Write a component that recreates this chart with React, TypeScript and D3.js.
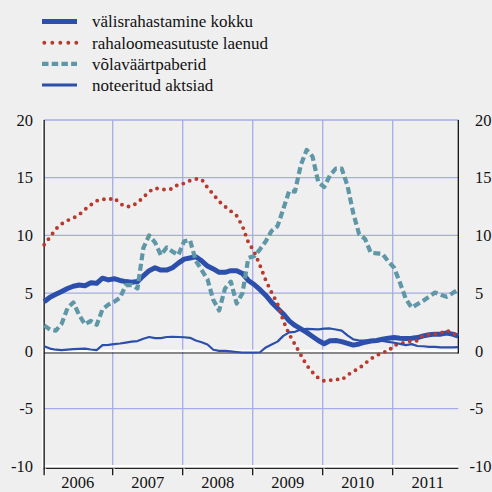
import React from 'react';
import * as d3 from 'd3';

const years = ['2006', '2007', '2008', '2009', '2010', '2011'];
const yTicks = [-10, -5, 0, 5, 10, 15, 20];
const seriesNames = ['välisrahastamine kokku', 'rahaloomeasutuste laenud', 'võlaväärtpaberid', 'noteeritud aktsiad'];

// monthly values, Jan 2006 – Dec 2011
const total = [
  4.25, 4.65, 4.9, 5.15, 5.4, 5.6, 5.7, 5.65, 5.9, 5.85, 6.3, 6.15,
  6.25, 6.1, 6.0, 5.95, 6.0, 6.5, 6.95, 7.2, 7.0, 7.0, 7.2, 7.6,
  7.95, 8.05, 8.15, 7.8, 7.35, 7.1, 6.8, 6.8, 6.95, 6.95, 6.7, 6.1,
  5.75, 5.3, 4.8, 4.2, 3.7, 3.2, 2.6, 2.2, 1.9, 1.6, 1.25, 0.9,
  0.62, 0.88, 0.9, 0.8, 0.65, 0.5, 0.6, 0.75, 0.85, 0.9, 1.0, 1.1,
  1.15, 1.1, 1.07, 1.1, 1.15, 1.3, 1.4, 1.45, 1.45, 1.55, 1.45, 1.27,
];
const loans = [
  9.2, 9.85, 10.55, 11.0, 11.3, 11.5, 11.8, 12.25, 12.65, 13.0, 13.15, 13.08,
  13.25, 12.75, 12.5, 12.52, 12.85, 13.3, 13.8, 14.1, 14.0, 13.95, 14.05, 14.43,
  14.5, 14.75, 14.9, 14.85, 14.15, 13.55, 12.95, 12.5, 12.1, 11.7, 10.8, 9.4,
  8.6, 7.4, 6.1, 5.05, 4.1, 2.6, 1.45, 0.55, -0.35, -1.25, -1.85, -2.35,
  -2.6, -2.55, -2.45, -2.52, -2.1, -1.78, -1.5, -1.1, -0.68, -0.4, -0.12, -0.03,
  0.5, 0.6, 0.75, 0.87, 0.88, 1.36, 1.4, 1.45, 1.55, 1.8, 1.5, 1.35,
];
const debt = [
  2.2, 1.85, 1.75, 2.35, 3.7, 4.2, 3.1, 2.3, 2.6, 2.25, 3.6, 4.0,
  4.25, 4.6, 5.7, 5.7, 5.4, 8.9, 10.0, 9.4, 8.3, 8.95, 8.6, 8.3,
  9.5, 9.6, 7.8, 7.0, 6.2, 4.4, 3.5, 5.4, 6.0, 4.1, 5.0, 8.05,
  8.2, 8.8, 9.5, 10.4, 10.8, 12.3, 13.85, 13.8, 16.1, 17.4, 16.85, 14.6,
  14.2, 15.2, 15.8, 15.8, 14.3, 11.9, 10.1, 9.7, 8.5, 8.45, 8.4, 7.75,
  7.2, 5.9, 4.5, 3.75, 4.05, 4.35, 4.7, 5.05, 4.85, 4.68, 5.0, 5.3,
];
const equity = [
  0.4, 0.2, 0.1, 0.06, 0.1, 0.15, 0.18, 0.2, 0.12, 0.06, 0.5, 0.52,
  0.58, 0.64, 0.72, 0.8, 0.85, 1.05, 1.2, 1.1, 1.1, 1.2, 1.22, 1.2,
  1.18, 1.13, 0.9, 0.75, 0.55, 0.1, 0.0, 0.0, -0.05, -0.1, -0.14, -0.14,
  -0.14, -0.12, 0.3, 0.55, 0.8, 1.3, 1.6, 1.65, 1.85, 1.9, 1.88, 1.86,
  1.92, 1.94, 1.85, 1.75, 1.35, 1.0, 0.9, 0.88, 0.87, 0.87, 0.87, 0.78,
  0.7, 0.6, 0.5, 0.58, 0.42, 0.4, 0.35, 0.35, 0.3, 0.3, 0.3, 0.32,
];

const BLUE = '#2c4fab';
const RED = '#b8392d';
const TEAL = '#5f97a7';
const GRID = '#a6abea';
const BG = '#efefef';
const FONT = "'Liberation Serif', 'Times New Roman', 'DejaVu Serif', serif";

const styles = [
  { color: BLUE, width: 5, dash: undefined as string | undefined, cap: 'butt' },
  { color: RED, width: 3.9, dash: '0 7', cap: 'round' },
  { color: TEAL, width: 4.2, dash: '7 3.5', cap: 'butt' },
  { color: BLUE, width: 2.2, dash: undefined as string | undefined, cap: 'butt' },
];

export default function App() {
  const W = 492, H = 492;
  const x = d3.scaleLinear().domain([0, 72]).range([42.7, 462.7]);
  const y = d3.scaleLinear().domain([-10, 20]).range([466.3, 120]);
  const n = total.length;
  const xl = x(0.25);
  const xr = x(n - 1 + 0.25);
  const line = d3.line<number>().x((_, i) => x(i + 0.25)).y((d) => y(d));
  const series = [total, loans, debt, equity];
  const bounds = d3.range(1, years.length).map((k) => x(12 * k));
  const numStyle = { fontFamily: FONT, fontSize: '16.5px' } as React.CSSProperties;
  const legStyle = { fontFamily: FONT, fontSize: '17px' } as React.CSSProperties;

  return (
    <svg width={W} height={H} style={{ position: 'absolute', left: 0, top: 0 }}>
      <rect width={W} height={H} fill={BG} />
      {yTicks.filter((t) => t > 0 || t === -5).map((t) => (
        <line key={'h' + t} x1={xl} x2={xr} y1={y(t)} y2={y(t)} stroke={GRID} strokeWidth={1.3} />
      ))}
      {bounds.map((b, k) => (
        <line key={'v' + k} x1={b} x2={b} y1={y(20)} y2={y(-10)} stroke={GRID} strokeWidth={1.3} />
      ))}
      {[0, -10].map((t) => (
        <g key={'z' + t}>
          <line x1={xl} x2={xr} y1={y(t)} y2={y(t)} stroke="#ffffff" strokeWidth={2.4} />
          <line x1={xl} x2={xr} y1={y(t) + 2.1} y2={y(t) + 2.1} stroke="#222" strokeWidth={1.1} />
        </g>
      ))}
      {[xl, ...bounds].map((b, k) => (
        <g key={'t' + k}>
          <line x1={b + 1.2} x2={b + 1.2} y1={y(-10) + 2} y2={y(-10) + 9} stroke="#fff" strokeWidth={1.4} />
          <line x1={b} x2={b} y1={y(-10) + 2} y2={y(-10) + 9} stroke="#111" strokeWidth={1.3} />
        </g>
      ))}
      <line x1={xl - 1.6} x2={xl - 1.6} y1={y(20)} y2={y(-10) + 2} stroke="#fff" strokeWidth={1.4} />
      <line x1={xl} x2={xl} y1={y(20)} y2={y(-10) + 2.6} stroke="#111" strokeWidth={1.3} />
      <line x1={xr} x2={xr} y1={y(20)} y2={y(0) + 2.6} stroke="#111" strokeWidth={1.3} />
      {series.map((s, k) => (
        <path key={'s' + k} d={line(s) || ''} fill="none" stroke={styles[k].color} strokeWidth={styles[k].width}
          strokeDasharray={styles[k].dash} strokeLinecap={styles[k].cap as any} strokeLinejoin="round" />
      ))}
      {yTicks.map((t) => (
        <text key={'l' + t} x={33} y={y(t)} dy="0.35em" textAnchor="end" style={numStyle} fill="#111">{t}</text>
      ))}
      {yTicks.map((t) => (
        <text key={'r' + t} x={t < 0 ? 469.5 : 475} y={y(t)} dy="0.35em" textAnchor="start" style={numStyle} fill="#111">{t}</text>
      ))}
      {years.map((yr, k) => (
        <text key={'y' + yr} x={x(12 * k + 6)} y={488} textAnchor="middle" style={numStyle} fill="#111">{yr}</text>
      ))}
      {seriesNames.map((name, k) => {
        const ly = 21.6 + k * 21.1;
        const st = styles[k];
        const legendDash = k === 1 ? '0 8' : k === 2 ? '6.5 3.2' : undefined;
        return (
          <g key={'lg' + k}>
            <line x1={k === 1 ? 44.3 : 42} x2={77} y1={ly} y2={ly} stroke={st.color}
              strokeWidth={k === 3 ? 3 : st.width} strokeDasharray={legendDash} strokeLinecap={st.cap as any} />
            <text x={92} y={ly + 5.8} style={legStyle} fill="#111">{name}</text>
          </g>
        );
      })}
    </svg>
  );
}
